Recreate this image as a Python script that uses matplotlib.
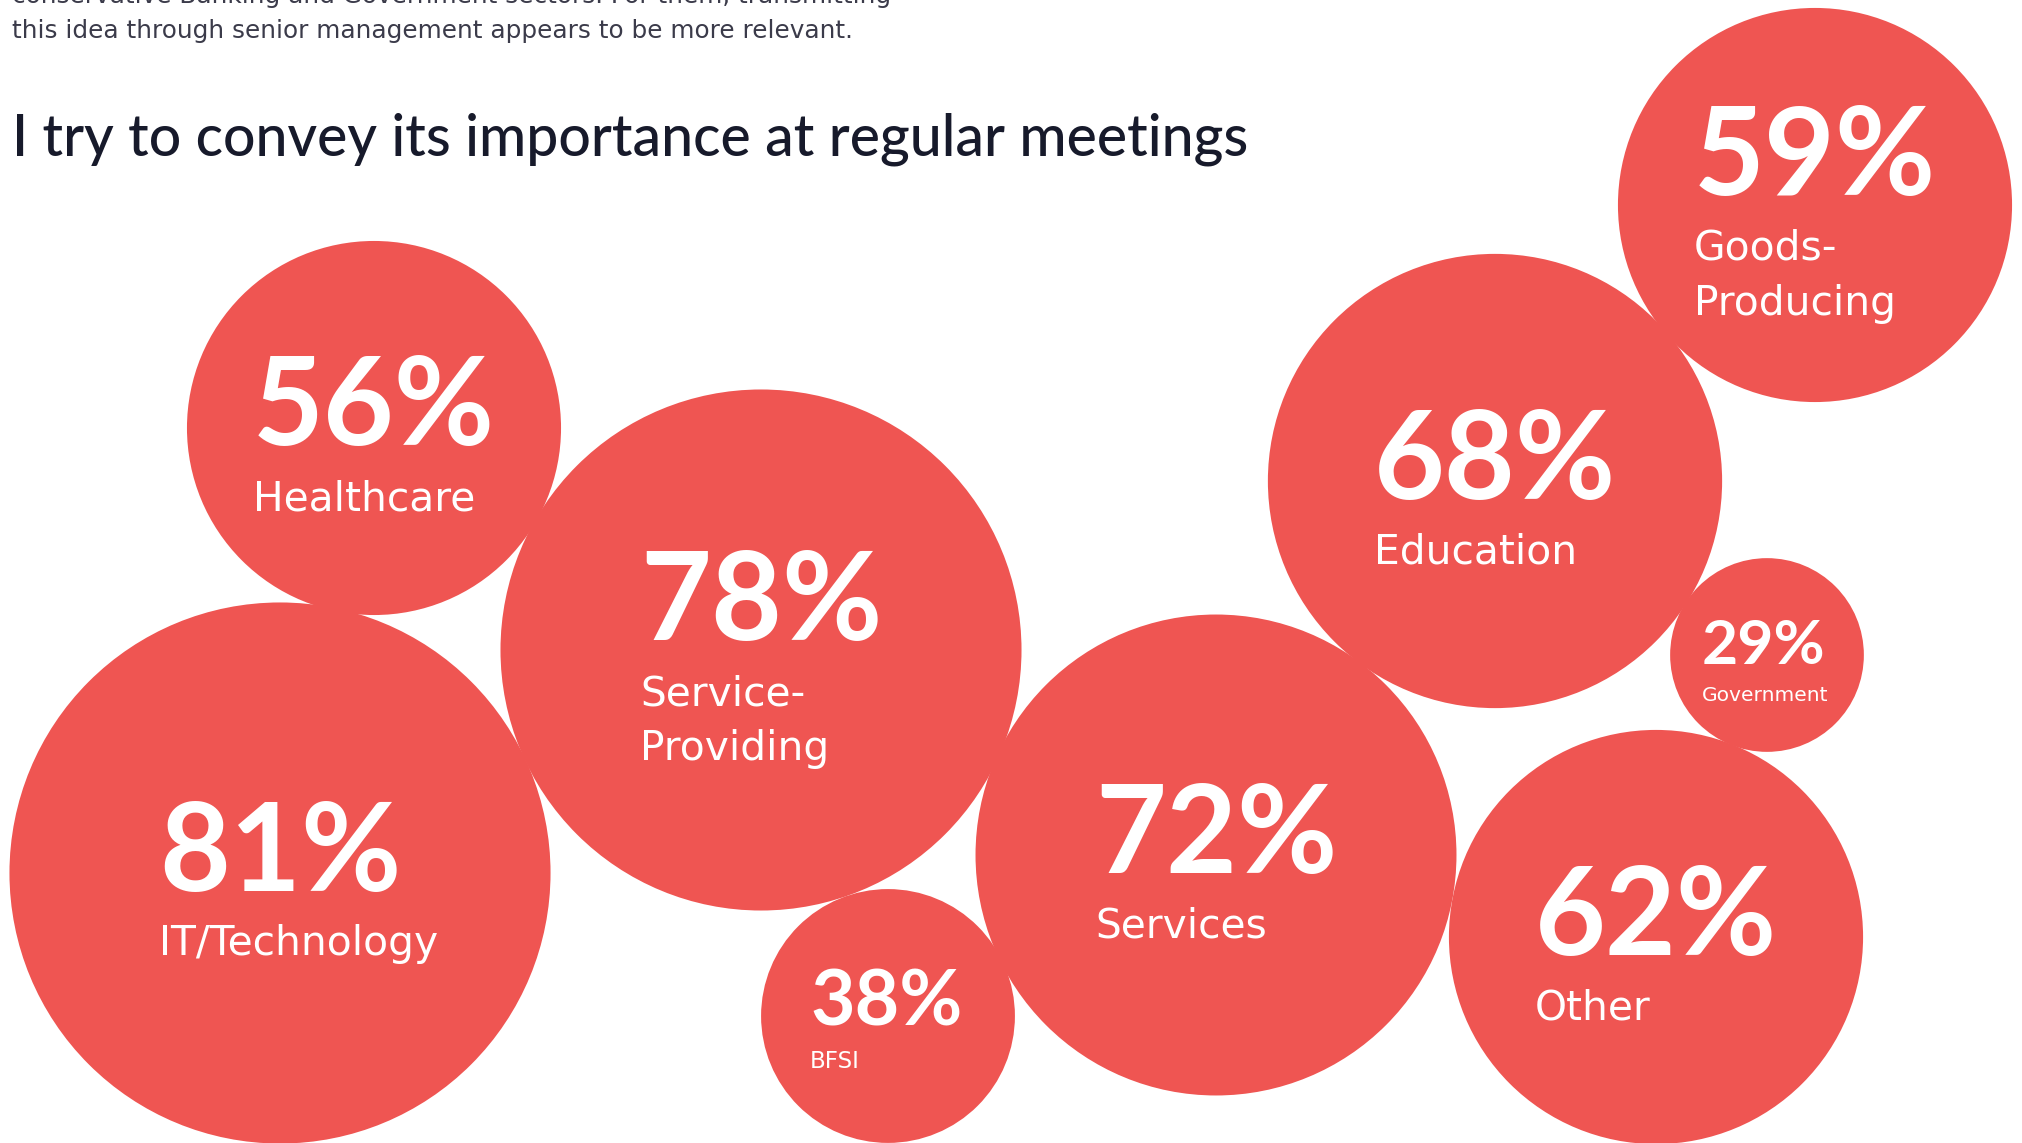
import matplotlib
matplotlib.use("Agg")
import matplotlib.pyplot as plt
from matplotlib.patches import Circle

# ---- data ----
categories = ["Goods-Producing", "Education", "Healthcare", "Service-Providing",
              "IT/Technology", "BFSI", "Services", "Government", "Other"]
values = [59, 68, 56, 78, 81, 38, 72, 29, 62]
labels = [["Goods-", "Producing"], ["Education"], ["Healthcare"], ["Service-", "Providing"],
          ["IT/Technology"], ["BFSI"], ["Services"], ["Government"], ["Other"]]

title = "I try to convey its importance at regular meetings"
intro_lines = ["conservative Banking and Government sectors. For them, transmitting",
               "this idea through senior management appears to be more relevant."]

# ---- layout (pixel positions of bubble centres) ----
cx = [1815, 1495, 374, 761, 280, 888, 1216, 1767, 1656]
cy = [205, 481, 428, 650, 873, 1016, 855, 655, 937]
# text style per bubble: (number cap px, baseline gap, line spacing, left offset, size class)
big = (90, 65, 55, 121, "big")
styles = [big, big, big, big, big, (51, 42, 30, 78, "bfsi"), big, (45, 37, 25, 65, "gov"), big]
# target widths (px) used to size fonts: (number sample, width), (label sample, width)
size_fit = {
    "big": (("56%", 242), ("Healthcare", 222)),
    "bfsi": (("38%", 152), ("BFSI", 50)),
    "gov": (("29%", 123), ("Government", 126)),
}

RADIUS_PER_UNIT = 3.34
COLOR = "#EF5552"
W, H = 2022, 1143
DPI = 100

NUM_FONT = ["Lato", "DejaVu Sans"]
LAB_FONT = ["DejaVu Sans"]

fig = plt.figure(figsize=(W / DPI, H / DPI), dpi=DPI)
ax = fig.add_axes([0, 0, 1, 1])
ax.set_xlim(0, W)
ax.set_ylim(H, 0)
ax.axis("off")
renderer = fig.canvas.get_renderer()


def fitted_size(s, target_w, **kw):
    t = ax.text(0, 0, s, fontsize=40, **kw)
    w = t.get_window_extent(renderer).width
    t.remove()
    return 40 * target_w / w


# intro text (partially cut at top)
sub_size = fitted_size(intro_lines[1], 838, family=LAB_FONT)
for i, line in enumerate(intro_lines):
    ax.text(12, 3 + 35 * i, line, fontsize=sub_size, family=LAB_FONT,
            color="#3b3b4a", ha="left", va="baseline")

title_size = fitted_size(title, 1235, family=NUM_FONT, weight="medium")
ax.text(12, 156, title, fontsize=title_size, family=NUM_FONT, weight="medium",
        color="#171a2b", ha="left", va="baseline")

sizes = {}
for key, ((ns, nw), (ls_, lw)) in size_fit.items():
    sizes[key] = (fitted_size(ns, nw, family=NUM_FONT, weight="bold"),
                  fitted_size(ls_, lw, family=LAB_FONT))

for v, x, y in zip(values, cx, cy):
    ax.add_patch(Circle((x, y), RADIUS_PER_UNIT * v, facecolor=COLOR,
                        edgecolor="none", zorder=1))

for v, x, y, lab, st in zip(values, cx, cy, labels, styles):
    capn, gap, ls, off, key = st
    nsize, lsize = sizes[key]
    n = len(lab)
    ynb = (2 * y + 10 + capn - gap - (n - 1) * ls) / 2
    xl = x - off
    ax.text(xl, ynb, f"{v}%", fontsize=nsize, family=NUM_FONT, weight="bold",
            color="white", ha="left", va="baseline", zorder=3)
    for k, line in enumerate(lab):
        ax.text(xl, ynb + gap + k * ls, line, fontsize=lsize, family=LAB_FONT,
                color="white", ha="left", va="baseline", zorder=3)

fig.savefig("out.png", dpi=DPI, facecolor="white")
